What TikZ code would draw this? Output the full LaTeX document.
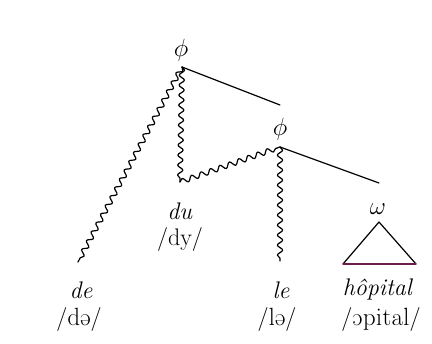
\documentclass[tikz,border=0pt]{standalone}
\usepackage{tipa}
\usetikzlibrary{decorations.pathmorphing}
\definecolor{basepurple}{RGB}{110,30,75}
\begin{document}
\begin{tikzpicture}[x=1pt,y=-1pt,
  lab/.style={inner sep=0pt, font=\fontsize{24}{28}\selectfont},
  ln/.style={line width=1.2pt, line cap=round, line join=round},
  wavy/.style={ln, decorate, decoration={snake, segment length=10pt, amplitude=2.6pt}}]
\useasboundingbox (0,0) rectangle (432,344);
% nodes
\node[lab] (phiA) at (181,50) {$\phi$};
\node[lab] (phiB) at (280,129) {$\phi$};
\node[lab] (omega) at (378,209) {$\omega$};
\node[lab] (du) at (180,211) {\textit{du}};
\node[lab] (duipa) at (180,240) {/dy/};
\node[lab] (de) at (81,290) {\textit{de}};
\node[lab] (deipa) at (79,320) {/\textipa{d@}/};
\node[lab] (le) at (281,290) {\textit{le}};
\node[lab] (leipa) at (277,320) {/\textipa{l@}/};
\node[lab] (hop) at (378,290) {\textit{hôpital}};
\node[lab] (hopipa) at (381,320) {/\textipa{Opital}/};
% attachment points
\coordinate (rA) at (182,67);
\coordinate (rB) at (280,147);
\coordinate (endA) at (280,105);
\coordinate (endB) at (379,183);
\coordinate (bend) at (180,182);
\coordinate (wDe) at (78,262);
\coordinate (wLe) at (280,261);
\coordinate (apex) at (379,222);
\coordinate (bl) at (343,264);
\coordinate (br) at (416,264);
% straight branches
\draw[ln] (rA) -- (endA);
\draw[ln] (rB) -- (endB);
% wavy branches
\draw[wavy] (rA) -- (wDe);
\draw[wavy] (rA) -- (bend);
\draw[wavy] (bend) -- (rB);
\draw[wavy] (rB) -- (wLe);
% triangle
\draw[ln] (bl) -- (apex) -- (br);
\draw[ln, basepurple] (bl) -- (br);
\end{tikzpicture}
\end{document}
